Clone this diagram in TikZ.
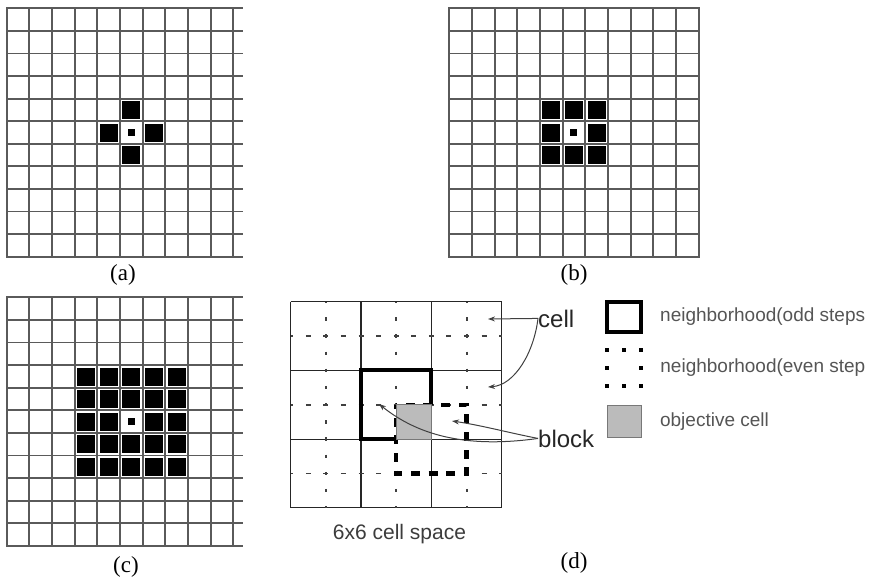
\documentclass[tikz,border=0pt]{standalone}
\usepackage{fontspec}
\setmainfont{Liberation Serif}
\setsansfont{Liberation Sans}
\usetikzlibrary{positioning, arrows.meta}

\definecolor{gridGray}{RGB}{90,90,90}
\definecolor{labelGray}{RGB}{60,60,60}
\definecolor{legendGray}{RGB}{85,85,85}
\definecolor{cellFill}{RGB}{187,187,187}
\definecolor{cellEdge}{RGB}{120,120,120}

\begin{document}
\begin{tikzpicture}[
    x=1pt, y=-1pt,
    gridline/.style={gridGray, line width=1.9pt, line cap=rect},
    spaceline/.style={black!85, line width=1.2pt},
    quarterH/.style={black!75, line width=1.8pt, dash pattern=on 5pt off 12.575pt, dash phase=2.5pt},
    quarterV/.style={black!75, line width=2pt, dash pattern=on 3.4pt off 13.775pt, dash phase=1.7pt},
    oddnb/.style={black, line width=4pt},
    evennb/.style={black, line width=4.4pt, dash pattern=on 9pt off 8.6pt, dash phase=4.5pt},
    objcell/.style={fill=cellFill, draw=cellEdge, line width=0.8pt},
    sublabel/.style={font=\fontsize{23}{27}\selectfont},
    legtext/.style={font=\sffamily\fontsize{19}{23}\selectfont, text=legendGray, inner sep=0pt},
    calltext/.style={font=\sffamily\fontsize{24}{28}\selectfont, text=black!85, inner sep=0pt},
    callout/.style={-{Stealth[length=7pt, width=5pt]}, black!75, line width=1pt},
  ]
    \useasboundingbox (0,0) rectangle (877,582);

    % Grid (a)
    \foreach \i in {0,...,10}
      \draw[gridline] (6.7+22.66*\i, 8.3) -- (6.7+22.66*\i, 256.7);
    \foreach \j in {0,...,11}
      \draw[gridline] (6.7, 8.3+22.58*\j) -- (241.7, 8.3+22.58*\j);
    \foreach \i/\j in {5/4, 4/5, 6/5, 5/6}
      \fill (6.7+22.66*\i+2.4, 8.3+22.58*\j+2.4) rectangle ++(18,18);
    \fill (6.7+22.66*5+7.8, 8.3+22.58*5+7.8) rectangle ++(7,7);
    \node[sublabel] (lblA) at (123, 275) {(a)};

    % Grid (b)
    \foreach \i in {0,...,11}
      \draw[gridline] (449.3+22.66*\i, 8.3) -- (449.3+22.66*\i, 256.7);
    \foreach \j in {0,...,11}
      \draw[gridline] (449.3, 8.3+22.58*\j) -- (698.6, 8.3+22.58*\j);
    \foreach \i in {4,5,6}
      \foreach \j in {4,5,6}
        \fill (449.3+22.66*\i+2.4, 8.3+22.58*\j+2.4) rectangle ++(18,18);
    \fill[white] (449.3+22.66*5+2.4, 8.3+22.58*5+2.4) rectangle ++(18,18);
    \fill (449.3+22.66*5+7.8, 8.3+22.58*5+7.8) rectangle ++(7,7);
    \node[sublabel] (lblB) at (574, 275) {(b)};

    % Grid (c)
    \foreach \i in {0,...,10}
      \draw[gridline] (6.7+22.66*\i, 297.3) -- (6.7+22.66*\i, 545.9);
    \foreach \j in {0,...,11}
      \draw[gridline] (6.7, 297.3+22.6*\j) -- (241.7, 297.3+22.6*\j);
    \foreach \i in {3,...,7}
      \foreach \j in {3,...,7}
        \fill (6.7+22.66*\i+2.4, 297.3+22.6*\j+2.4) rectangle ++(18,18);
    \fill[white] (6.7+22.66*5+2.4, 297.3+22.6*5+2.4) rectangle ++(18,18);
    \fill (6.7+22.66*5+7.8, 297.3+22.6*5+7.8) rectangle ++(7,7);
    \node[sublabel] (lblC) at (126, 567) {(c)};

    % Grid (d): blocks and cells
    \foreach \i in {0,...,3}
      \draw[spaceline] (290.7+70.33*\i, 301.7) -- (290.7+70.33*\i, 507.8);
    \foreach \j in {0,...,3}
      \draw[spaceline] (290.7, 301.7+68.7*\j) -- (501.7, 301.7+68.7*\j);
    \foreach \i in {0,1,2} {
      \draw[quarterV] (290.7+70.33*\i+35.17, 301.7) -- ++(0, 206.1);
      \draw[quarterH] (290.7, 301.7+68.7*\i+34.35) -- ++(211, 0);
    }

    % Neighbourhoods
    \draw[evennb] (396.2, 404.75) rectangle ++(70.33, 68.7);
    \draw[oddnb] (431.4, 404.75) -- (431.4, 370.4) -- (361, 370.4) -- (361, 439.1) -- (396.2, 439.1);
    \draw[objcell] (396.2, 404.75) rectangle (431.4, 439.1);
    \node[font=\sffamily\fontsize{21}{25}\selectfont, text=labelGray, anchor=base] (spaceLbl) at (399.5, 539) {6x6 cell space};
    \node[sublabel] (lblD) at (574, 563) {(d)};

    % Callouts
    \coordinate (cellTipA) at (488, 319);
    \coordinate (cellTipB) at (488, 387);
    \coordinate (blockTipA) at (452, 421);
    \coordinate (blockTipB) at (379, 404);
    \node[calltext, anchor=base west] (cellLbl) at (538, 327) {cell};
    \node[calltext, anchor=base west] (blockLbl) at (538, 447) {block};
    \draw[callout] (cellLbl.west) -- (cellTipA);
    \draw[callout] (cellLbl.west) .. controls (534,352) and (515,385) .. (cellTipB);
    \draw[callout] (blockLbl.west) .. controls (510,433) and (480,425) .. (blockTipA);
    \draw[callout] (blockLbl.west) .. controls (470,448) and (420,437) .. (blockTipB);

    % Legend
    \node[draw, oddnb, minimum width=34pt, minimum height=30pt, inner sep=0pt] (boxOdd) at (624, 317) {};
    \node[legtext, right=17pt of boxOdd] (legOdd) {neighborhood(odd steps};
    \node[minimum width=34pt, minimum height=36pt, inner sep=0pt] (boxEven) at (624, 368) {};
    \foreach \a in {north west, north, north east, east, south east, south, south west, west}
      \fill (boxEven.\a) +(-2.1,-2.1) rectangle +(2.1,2.1);
    \node[legtext, right=19pt of boxEven] (legEven) {neighborhood(even step};
    \node[objcell, minimum width=34pt, minimum height=32pt, inner sep=0pt] (boxObj) at (624.5, 421.5) {};
    \node[legtext, right=18pt of boxObj] (legObj) {objective cell};
\end{tikzpicture}
\end{document}
